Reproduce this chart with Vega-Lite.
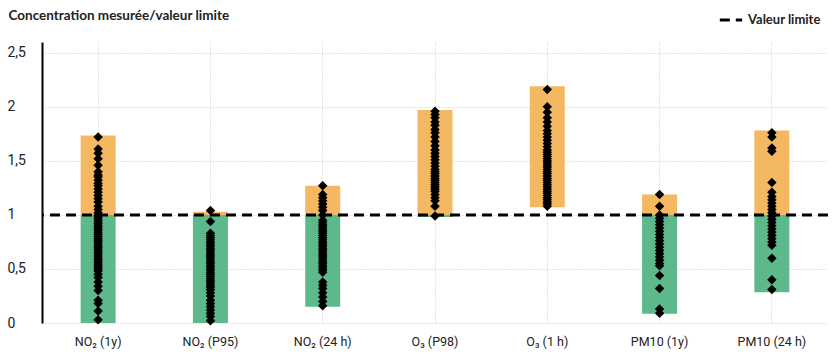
{
  "$schema": "https://vega.github.io/schema/vega-lite/v6.json",
  "width": 786,
  "height": 281,
  "autosize": {"type": "none"},
  "padding": {"left": 42, "top": 42, "right": 7, "bottom": 39},
  "background": "white",
  "config": {"view": {"stroke": null}, "font": "Roboto"},
  "datasets": {
    "bars": [
      {"cat": "NO₂ (1y)", "lo": 0.0, "hi": 1.0, "part": "below"},
      {"cat": "NO₂ (1y)", "lo": 1.0, "hi": 1.735, "part": "above"},
      {"cat": "NO₂ (P95)", "lo": 0.0, "hi": 1.0, "part": "below"},
      {"cat": "NO₂ (P95)", "lo": 1.0, "hi": 1.03, "part": "above"},
      {"cat": "NO₂ (24 h)", "lo": 0.15, "hi": 1.0, "part": "below"},
      {"cat": "NO₂ (24 h)", "lo": 1.0, "hi": 1.27, "part": "above"},
      {"cat": "O₃ (P98)", "lo": 0.98, "hi": 1.0, "part": "below"},
      {"cat": "O₃ (P98)", "lo": 1.0, "hi": 1.97, "part": "above"},
      {"cat": "O₃ (1 h)", "lo": 1.07, "hi": 2.19, "part": "above"},
      {"cat": "PM10 (1y)", "lo": 0.086, "hi": 1.0, "part": "below"},
      {"cat": "PM10 (1y)", "lo": 1.0, "hi": 1.19, "part": "above"},
      {"cat": "PM10 (24 h)", "lo": 0.285, "hi": 1.0, "part": "below"},
      {"cat": "PM10 (24 h)", "lo": 1.0, "hi": 1.78, "part": "above"}
    ],
    "pts": [
      {"cat": "NO₂ (1y)", "v": 1.72}, {"cat": "NO₂ (1y)", "v": 1.61}, {"cat": "NO₂ (1y)", "v": 1.57}, {"cat": "NO₂ (1y)", "v": 1.52}, {"cat": "NO₂ (1y)", "v": 1.46}, {"cat": "NO₂ (1y)", "v": 1.40}, {"cat": "NO₂ (1y)", "v": 1.37}, {"cat": "NO₂ (1y)", "v": 1.35}, {"cat": "NO₂ (1y)", "v": 1.32}, {"cat": "NO₂ (1y)", "v": 1.29}, {"cat": "NO₂ (1y)", "v": 1.27}, {"cat": "NO₂ (1y)", "v": 1.24}, {"cat": "NO₂ (1y)", "v": 1.21}, {"cat": "NO₂ (1y)", "v": 1.18}, {"cat": "NO₂ (1y)", "v": 1.15}, {"cat": "NO₂ (1y)", "v": 1.12}, {"cat": "NO₂ (1y)", "v": 1.08}, {"cat": "NO₂ (1y)", "v": 1.05}, {"cat": "NO₂ (1y)", "v": 1.02}, {"cat": "NO₂ (1y)", "v": 1.0}, {"cat": "NO₂ (1y)", "v": 0.98}, {"cat": "NO₂ (1y)", "v": 0.96}, {"cat": "NO₂ (1y)", "v": 0.94}, {"cat": "NO₂ (1y)", "v": 0.92}, {"cat": "NO₂ (1y)", "v": 0.90}, {"cat": "NO₂ (1y)", "v": 0.88}, {"cat": "NO₂ (1y)", "v": 0.86}, {"cat": "NO₂ (1y)", "v": 0.84}, {"cat": "NO₂ (1y)", "v": 0.82}, {"cat": "NO₂ (1y)", "v": 0.80}, {"cat": "NO₂ (1y)", "v": 0.78}, {"cat": "NO₂ (1y)", "v": 0.76}, {"cat": "NO₂ (1y)", "v": 0.74}, {"cat": "NO₂ (1y)", "v": 0.72}, {"cat": "NO₂ (1y)", "v": 0.70}, {"cat": "NO₂ (1y)", "v": 0.68}, {"cat": "NO₂ (1y)", "v": 0.66}, {"cat": "NO₂ (1y)", "v": 0.64}, {"cat": "NO₂ (1y)", "v": 0.62}, {"cat": "NO₂ (1y)", "v": 0.60}, {"cat": "NO₂ (1y)", "v": 0.58}, {"cat": "NO₂ (1y)", "v": 0.56}, {"cat": "NO₂ (1y)", "v": 0.54}, {"cat": "NO₂ (1y)", "v": 0.52}, {"cat": "NO₂ (1y)", "v": 0.50}, {"cat": "NO₂ (1y)", "v": 0.48}, {"cat": "NO₂ (1y)", "v": 0.45}, {"cat": "NO₂ (1y)", "v": 0.42}, {"cat": "NO₂ (1y)", "v": 0.38}, {"cat": "NO₂ (1y)", "v": 0.34}, {"cat": "NO₂ (1y)", "v": 0.30}, {"cat": "NO₂ (1y)", "v": 0.21}, {"cat": "NO₂ (1y)", "v": 0.18}, {"cat": "NO₂ (1y)", "v": 0.11}, {"cat": "NO₂ (1y)", "v": 0.03},
      {"cat": "NO₂ (P95)", "v": 1.04}, {"cat": "NO₂ (P95)", "v": 0.94}, {"cat": "NO₂ (P95)", "v": 0.83}, {"cat": "NO₂ (P95)", "v": 0.81}, {"cat": "NO₂ (P95)", "v": 0.79}, {"cat": "NO₂ (P95)", "v": 0.77}, {"cat": "NO₂ (P95)", "v": 0.75}, {"cat": "NO₂ (P95)", "v": 0.73}, {"cat": "NO₂ (P95)", "v": 0.71}, {"cat": "NO₂ (P95)", "v": 0.69}, {"cat": "NO₂ (P95)", "v": 0.67}, {"cat": "NO₂ (P95)", "v": 0.65}, {"cat": "NO₂ (P95)", "v": 0.63}, {"cat": "NO₂ (P95)", "v": 0.61}, {"cat": "NO₂ (P95)", "v": 0.59}, {"cat": "NO₂ (P95)", "v": 0.57}, {"cat": "NO₂ (P95)", "v": 0.55}, {"cat": "NO₂ (P95)", "v": 0.53}, {"cat": "NO₂ (P95)", "v": 0.51}, {"cat": "NO₂ (P95)", "v": 0.49}, {"cat": "NO₂ (P95)", "v": 0.47}, {"cat": "NO₂ (P95)", "v": 0.45}, {"cat": "NO₂ (P95)", "v": 0.43}, {"cat": "NO₂ (P95)", "v": 0.41}, {"cat": "NO₂ (P95)", "v": 0.39}, {"cat": "NO₂ (P95)", "v": 0.37}, {"cat": "NO₂ (P95)", "v": 0.35}, {"cat": "NO₂ (P95)", "v": 0.33}, {"cat": "NO₂ (P95)", "v": 0.31}, {"cat": "NO₂ (P95)", "v": 0.28}, {"cat": "NO₂ (P95)", "v": 0.25}, {"cat": "NO₂ (P95)", "v": 0.21}, {"cat": "NO₂ (P95)", "v": 0.18}, {"cat": "NO₂ (P95)", "v": 0.15}, {"cat": "NO₂ (P95)", "v": 0.12}, {"cat": "NO₂ (P95)", "v": 0.09}, {"cat": "NO₂ (P95)", "v": 0.06}, {"cat": "NO₂ (P95)", "v": 0.02},
      {"cat": "NO₂ (24 h)", "v": 1.27}, {"cat": "NO₂ (24 h)", "v": 1.19}, {"cat": "NO₂ (24 h)", "v": 1.16}, {"cat": "NO₂ (24 h)", "v": 1.13}, {"cat": "NO₂ (24 h)", "v": 1.10}, {"cat": "NO₂ (24 h)", "v": 1.07}, {"cat": "NO₂ (24 h)", "v": 1.04}, {"cat": "NO₂ (24 h)", "v": 1.00}, {"cat": "NO₂ (24 h)", "v": 0.95}, {"cat": "NO₂ (24 h)", "v": 0.93}, {"cat": "NO₂ (24 h)", "v": 0.91}, {"cat": "NO₂ (24 h)", "v": 0.89}, {"cat": "NO₂ (24 h)", "v": 0.87}, {"cat": "NO₂ (24 h)", "v": 0.85}, {"cat": "NO₂ (24 h)", "v": 0.83}, {"cat": "NO₂ (24 h)", "v": 0.81}, {"cat": "NO₂ (24 h)", "v": 0.79}, {"cat": "NO₂ (24 h)", "v": 0.77}, {"cat": "NO₂ (24 h)", "v": 0.75}, {"cat": "NO₂ (24 h)", "v": 0.73}, {"cat": "NO₂ (24 h)", "v": 0.71}, {"cat": "NO₂ (24 h)", "v": 0.69}, {"cat": "NO₂ (24 h)", "v": 0.67}, {"cat": "NO₂ (24 h)", "v": 0.65}, {"cat": "NO₂ (24 h)", "v": 0.63}, {"cat": "NO₂ (24 h)", "v": 0.61}, {"cat": "NO₂ (24 h)", "v": 0.59}, {"cat": "NO₂ (24 h)", "v": 0.57}, {"cat": "NO₂ (24 h)", "v": 0.55}, {"cat": "NO₂ (24 h)", "v": 0.53}, {"cat": "NO₂ (24 h)", "v": 0.51}, {"cat": "NO₂ (24 h)", "v": 0.49}, {"cat": "NO₂ (24 h)", "v": 0.47}, {"cat": "NO₂ (24 h)", "v": 0.38}, {"cat": "NO₂ (24 h)", "v": 0.35}, {"cat": "NO₂ (24 h)", "v": 0.32}, {"cat": "NO₂ (24 h)", "v": 0.28}, {"cat": "NO₂ (24 h)", "v": 0.24}, {"cat": "NO₂ (24 h)", "v": 0.20}, {"cat": "NO₂ (24 h)", "v": 0.16},
      {"cat": "O₃ (P98)", "v": 1.96}, {"cat": "O₃ (P98)", "v": 1.93}, {"cat": "O₃ (P98)", "v": 1.90}, {"cat": "O₃ (P98)", "v": 1.86}, {"cat": "O₃ (P98)", "v": 1.83}, {"cat": "O₃ (P98)", "v": 1.79}, {"cat": "O₃ (P98)", "v": 1.76}, {"cat": "O₃ (P98)", "v": 1.72}, {"cat": "O₃ (P98)", "v": 1.68}, {"cat": "O₃ (P98)", "v": 1.64}, {"cat": "O₃ (P98)", "v": 1.60}, {"cat": "O₃ (P98)", "v": 1.57}, {"cat": "O₃ (P98)", "v": 1.54}, {"cat": "O₃ (P98)", "v": 1.51}, {"cat": "O₃ (P98)", "v": 1.48}, {"cat": "O₃ (P98)", "v": 1.45}, {"cat": "O₃ (P98)", "v": 1.42}, {"cat": "O₃ (P98)", "v": 1.40}, {"cat": "O₃ (P98)", "v": 1.38}, {"cat": "O₃ (P98)", "v": 1.36}, {"cat": "O₃ (P98)", "v": 1.34}, {"cat": "O₃ (P98)", "v": 1.32}, {"cat": "O₃ (P98)", "v": 1.30}, {"cat": "O₃ (P98)", "v": 1.28}, {"cat": "O₃ (P98)", "v": 1.26}, {"cat": "O₃ (P98)", "v": 1.24}, {"cat": "O₃ (P98)", "v": 1.22}, {"cat": "O₃ (P98)", "v": 1.19}, {"cat": "O₃ (P98)", "v": 1.16}, {"cat": "O₃ (P98)", "v": 1.13}, {"cat": "O₃ (P98)", "v": 1.08}, {"cat": "O₃ (P98)", "v": 0.99},
      {"cat": "O₃ (1 h)", "v": 2.16}, {"cat": "O₃ (1 h)", "v": 2.00}, {"cat": "O₃ (1 h)", "v": 1.95}, {"cat": "O₃ (1 h)", "v": 1.90}, {"cat": "O₃ (1 h)", "v": 1.86}, {"cat": "O₃ (1 h)", "v": 1.82}, {"cat": "O₃ (1 h)", "v": 1.78}, {"cat": "O₃ (1 h)", "v": 1.75}, {"cat": "O₃ (1 h)", "v": 1.72}, {"cat": "O₃ (1 h)", "v": 1.69}, {"cat": "O₃ (1 h)", "v": 1.66}, {"cat": "O₃ (1 h)", "v": 1.63}, {"cat": "O₃ (1 h)", "v": 1.60}, {"cat": "O₃ (1 h)", "v": 1.58}, {"cat": "O₃ (1 h)", "v": 1.56}, {"cat": "O₃ (1 h)", "v": 1.54}, {"cat": "O₃ (1 h)", "v": 1.52}, {"cat": "O₃ (1 h)", "v": 1.50}, {"cat": "O₃ (1 h)", "v": 1.48}, {"cat": "O₃ (1 h)", "v": 1.46}, {"cat": "O₃ (1 h)", "v": 1.44}, {"cat": "O₃ (1 h)", "v": 1.42}, {"cat": "O₃ (1 h)", "v": 1.40}, {"cat": "O₃ (1 h)", "v": 1.38}, {"cat": "O₃ (1 h)", "v": 1.36}, {"cat": "O₃ (1 h)", "v": 1.34}, {"cat": "O₃ (1 h)", "v": 1.32}, {"cat": "O₃ (1 h)", "v": 1.30}, {"cat": "O₃ (1 h)", "v": 1.28}, {"cat": "O₃ (1 h)", "v": 1.26}, {"cat": "O₃ (1 h)", "v": 1.24}, {"cat": "O₃ (1 h)", "v": 1.22}, {"cat": "O₃ (1 h)", "v": 1.20}, {"cat": "O₃ (1 h)", "v": 1.18}, {"cat": "O₃ (1 h)", "v": 1.16}, {"cat": "O₃ (1 h)", "v": 1.14}, {"cat": "O₃ (1 h)", "v": 1.12}, {"cat": "O₃ (1 h)", "v": 1.10}, {"cat": "O₃ (1 h)", "v": 1.08},
      {"cat": "PM10 (1y)", "v": 1.19}, {"cat": "PM10 (1y)", "v": 1.08}, {"cat": "PM10 (1y)", "v": 1.00}, {"cat": "PM10 (1y)", "v": 0.97}, {"cat": "PM10 (1y)", "v": 0.94}, {"cat": "PM10 (1y)", "v": 0.91}, {"cat": "PM10 (1y)", "v": 0.88}, {"cat": "PM10 (1y)", "v": 0.85}, {"cat": "PM10 (1y)", "v": 0.82}, {"cat": "PM10 (1y)", "v": 0.79}, {"cat": "PM10 (1y)", "v": 0.76}, {"cat": "PM10 (1y)", "v": 0.73}, {"cat": "PM10 (1y)", "v": 0.70}, {"cat": "PM10 (1y)", "v": 0.67}, {"cat": "PM10 (1y)", "v": 0.64}, {"cat": "PM10 (1y)", "v": 0.61}, {"cat": "PM10 (1y)", "v": 0.58}, {"cat": "PM10 (1y)", "v": 0.55}, {"cat": "PM10 (1y)", "v": 0.53}, {"cat": "PM10 (1y)", "v": 0.44}, {"cat": "PM10 (1y)", "v": 0.32}, {"cat": "PM10 (1y)", "v": 0.13}, {"cat": "PM10 (1y)", "v": 0.09},
      {"cat": "PM10 (24 h)", "v": 1.76}, {"cat": "PM10 (24 h)", "v": 1.72}, {"cat": "PM10 (24 h)", "v": 1.62}, {"cat": "PM10 (24 h)", "v": 1.59}, {"cat": "PM10 (24 h)", "v": 1.30}, {"cat": "PM10 (24 h)", "v": 1.21}, {"cat": "PM10 (24 h)", "v": 1.17}, {"cat": "PM10 (24 h)", "v": 1.14}, {"cat": "PM10 (24 h)", "v": 1.11}, {"cat": "PM10 (24 h)", "v": 1.08}, {"cat": "PM10 (24 h)", "v": 1.05}, {"cat": "PM10 (24 h)", "v": 1.02}, {"cat": "PM10 (24 h)", "v": 0.99}, {"cat": "PM10 (24 h)", "v": 0.96}, {"cat": "PM10 (24 h)", "v": 0.93}, {"cat": "PM10 (24 h)", "v": 0.90}, {"cat": "PM10 (24 h)", "v": 0.87}, {"cat": "PM10 (24 h)", "v": 0.84}, {"cat": "PM10 (24 h)", "v": 0.81}, {"cat": "PM10 (24 h)", "v": 0.78}, {"cat": "PM10 (24 h)", "v": 0.75}, {"cat": "PM10 (24 h)", "v": 0.72}, {"cat": "PM10 (24 h)", "v": 0.60}, {"cat": "PM10 (24 h)", "v": 0.40}, {"cat": "PM10 (24 h)", "v": 0.31}
    ],
    "limit": [{"v": 1, "lbl": "Valeur limite"}]
  },
  "layer": [
    {
      "data": {"name": "bars"},
      "mark": {"type": "bar", "width": 35},
      "encoding": {
        "x": {"field": "cat", "type": "nominal", "sort": ["NO₂ (1y)", "NO₂ (P95)", "NO₂ (24 h)", "O₃ (P98)", "O₃ (1 h)", "PM10 (1y)", "PM10 (24 h)"], "scale": {"paddingInner": 0, "paddingOuter": 0}, "title": null,
          "axis": {"labelAngle": 0, "domain": false, "ticks": false, "labelPadding": 12, "labelFontSize": 12.5, "labelColor": "#222", "grid": true, "gridDash": [1, 2], "gridColor": "#c8c8c8", "bandPosition": 0.5}},
        "y": {"field": "lo", "type": "quantitative", "scale": {"domain": [0, 2.5]}, "title": "Concentration mesurée/valeur limite",
          "axis": {"values": [0, 0.5, 1, 1.5, 2, 2.5], "labelExpr": "replace(format(datum.value, '~g'), '.', ',')", "domain": true, "domainColor": "#000", "domainWidth": 2, "ticks": false, "labelAlign": "left", "labelPadding": 35, "labelFontSize": 14, "labelColor": "#222", "gridDash": [1, 2], "gridColor": "#c8c8c8",
            "titleAngle": 0, "titleAlign": "left", "titleBaseline": "middle", "titleX": -34, "titleY": -27, "titleFont": "Lato", "titleFontSize": 13.5, "titleFontWeight": "bold", "titleColor": "#222"}},
        "y2": {"field": "hi"},
        "color": {"field": "part", "type": "nominal", "scale": {"domain": ["above", "below"], "range": ["#F5B862", "#5DB98C"]}, "legend": null}
      }
    },
    {
      "data": {"name": "limit"},
      "mark": {"type": "rule", "strokeWidth": 3, "color": "#000"},
      "encoding": {
        "y": {"field": "v", "type": "quantitative"},
        "strokeDash": {"field": "lbl", "type": "nominal", "scale": {"range": [[10, 6]]},
          "legend": {"title": null, "orient": "none", "legendX": 676, "legendY": -35, "symbolType": "stroke", "symbolStrokeWidth": 3, "symbolSize": 500, "symbolStrokeColor": "#000", "labelFont": "Lato", "labelFontWeight": "bold", "labelFontSize": 13, "labelColor": "#222"}}
      }
    },
    {
      "data": {"name": "pts"},
      "mark": {"type": "point", "shape": "diamond", "filled": true, "color": "#000", "size": 90, "opacity": 1},
      "encoding": {
        "x": {"field": "cat", "type": "nominal", "sort": ["NO₂ (1y)", "NO₂ (P95)", "NO₂ (24 h)", "O₃ (P98)", "O₃ (1 h)", "PM10 (1y)", "PM10 (24 h)"]},
        "y": {"field": "v", "type": "quantitative"}
      }
    }
  ]
}
